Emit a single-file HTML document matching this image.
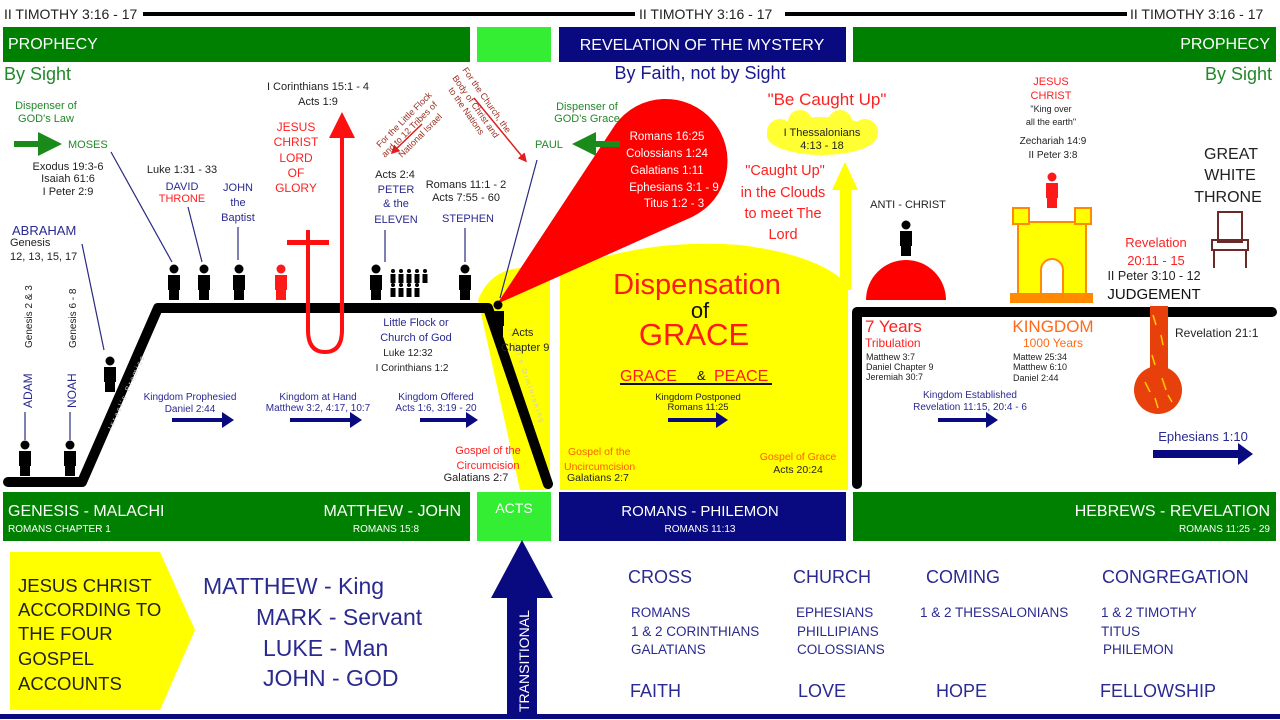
<!DOCTYPE html>
<html><head><meta charset="utf-8"><style>
html,body{margin:0;padding:0;background:#fff;}
svg{display:block;font-family:"Liberation Sans",Arial,sans-serif;}
</style></head><body>
<svg width="1280" height="720" viewBox="0 0 1280 720" xmlns="http://www.w3.org/2000/svg">
<defs>
<g id="p"><circle cx="0" cy="-31" r="4.5"/><rect x="-6" y="-25" width="12" height="15"/><rect x="-5" y="-11" width="10" height="11"/></g>
<g id="sp"><circle cx="0" cy="-12" r="2"/><rect x="-2.5" y="-9" width="5" height="9"/></g>
<marker id="ah" markerWidth="6" markerHeight="6" refX="4" refY="3" orient="auto"><path d="M0,0 L6,3 L0,6z" fill="#e02020"/></marker>
</defs>
<rect width="1280" height="720" fill="#fff"/>
<g font-size="14" fill="#222">
<text x="4" y="19">II TIMOTHY 3:16 - 17</text>
<text x="639" y="19">II TIMOTHY 3:16 - 17</text>
<text x="1130" y="19">II TIMOTHY 3:16 - 17</text>
</g>
<rect x="143" y="12" width="492" height="4" fill="#000"/>
<rect x="785" y="12" width="342" height="4" fill="#000"/>
<rect x="3" y="27" width="467" height="35" fill="#008000"/>
<rect x="477" y="27" width="74" height="35" fill="#33ee33"/>
<rect x="559" y="27" width="287" height="35" fill="#0a0a80"/>
<rect x="853" y="27" width="423" height="35" fill="#008000"/>
<g fill="#fff" font-size="16">
<text x="8" y="49">PROPHECY</text>
<text x="702" y="50" text-anchor="middle">REVELATION OF THE MYSTERY</text>
<text x="1270" y="49" text-anchor="end">PROPHECY</text>
</g>
<g font-size="18">
<text x="4" y="80" fill="#22882a">By Sight</text>
<text x="700" y="79" fill="#1a1a90" text-anchor="middle">By Faith, not by Sight</text>
<text x="1272" y="80" fill="#22882a" text-anchor="end">By Sight</text>
</g>
<!-- yellow areas -->
<path d="M478,300 Q490,270 520,268 L550,272 L550,490 L520,490 Z" fill="#ffff00"/>
<path d="M560,490 L560,272 Q640,238 740,245 Q820,255 848,285 L848,490 Z" fill="#ffff00"/>
<rect x="840" y="185" width="11" height="105" fill="#ffff00"/>
<path d="M832,190 L845,162 L858,190Z" fill="#ffff00"/>
<!-- red teardrop -->
<path d="M497,304 L615,125 A62,62 0 1 1 692,217 Z" fill="#ff0000"/>
<!-- cloud -->
<g fill="#ffff33">
<ellipse cx="822" cy="136" rx="55" ry="19"/>
<circle cx="780" cy="132" r="13"/><circle cx="865" cy="132" r="13"/><circle cx="800" cy="122" r="12"/><circle cx="840" cy="122" r="12"/>
</g>
<!-- timeline -->
<path d="M8,482 L82,482 L158,308 L488,308 L548,484" fill="none" stroke="#000" stroke-width="10" stroke-linejoin="round" stroke-linecap="round"/>
<path d="M857,484 L857,312 L1272,312" fill="none" stroke="#000" stroke-width="10" stroke-linejoin="round" stroke-linecap="round"/>
<text transform="translate(112,430) rotate(-66)" font-size="7" fill="#ccc" letter-spacing="2">Israel's Promise</text>
<text transform="translate(508,330) rotate(71)" font-size="7" fill="#ccc" letter-spacing="2">Israel's Diminishing</text>
<!-- red cross & U -->
<path d="M308,230 L308,330 Q308,352 325,352 Q342,352 342,330 L342,132" fill="none" stroke="#ff1010" stroke-width="4"/>
<rect x="287" y="240" width="42" height="5" fill="#ff1010"/>
<path d="M329,138 L342,112 L355,138Z" fill="#ff1010"/>
<!-- red diagonal arrows -->
<line x1="422" y1="124" x2="393" y2="152" stroke="#e02020" stroke-width="1.5" marker-end="url(#ah)"/>
<line x1="474" y1="98" x2="525" y2="160" stroke="#e02020" stroke-width="1.5" marker-end="url(#ah)"/>
<text transform="translate(380,148) rotate(-45)" font-size="9" fill="#9a3020">For the Little Flock</text>
<text transform="translate(385,158) rotate(-45)" font-size="9" fill="#9a3020">and to 12 Tribes of</text>
<text transform="translate(402,158) rotate(-45)" font-size="9" fill="#9a3020">National Israel</text>
<text transform="translate(462,70) rotate(55)" font-size="9" fill="#9a3020">For the Church, the</text>
<text transform="translate(452,78) rotate(55)" font-size="9" fill="#9a3020">Body of Christ and</text>
<text transform="translate(448,90) rotate(55)" font-size="9" fill="#9a3020">to the Nations</text>
<!-- connector lines -->
<g stroke="#2a2a80" stroke-width="1.2">
<line x1="111" y1="152" x2="172" y2="262"/>
<line x1="188" y1="207" x2="202" y2="262"/>
<line x1="238" y1="227" x2="238" y2="260"/>
<line x1="385" y1="230" x2="385" y2="262"/>
<line x1="465" y1="228" x2="465" y2="262"/>
<line x1="537" y1="160" x2="500" y2="298"/>
<line x1="82" y1="244" x2="104" y2="350"/>
<line x1="25" y1="412" x2="25" y2="440"/>
<line x1="70" y1="412" x2="70" y2="440"/>
</g>
<!-- figures -->
<g fill="#000">
<use href="#p" x="174" y="300"/><use href="#p" x="204" y="300"/><use href="#p" x="239" y="300"/>
<use href="#p" x="376" y="300"/><use href="#p" x="465" y="300"/>
<use href="#p" x="110" y="392"/><use href="#p" x="25" y="476"/><use href="#p" x="70" y="476"/>
<use href="#p" x="498" y="336"/><use href="#p" x="906" y="256"/>
<use href="#sp" x="393" y="283"/><use href="#sp" x="401" y="283"/><use href="#sp" x="409" y="283"/><use href="#sp" x="417" y="283"/><use href="#sp" x="425" y="283"/>
<use href="#sp" x="393" y="297"/><use href="#sp" x="401" y="297"/><use href="#sp" x="409" y="297"/><use href="#sp" x="417" y="297"/>
</g>
<use href="#p" x="281" y="300" fill="#ff1a1a"/>
<use href="#p" x="1052" y="208" fill="#ff1a1a"/>
<!-- dome, castle, lava, throne -->
<path d="M866,300 A40,40 0 0 1 946,300 Z" fill="#ff0000"/>
<g fill="#ffff00" stroke="#ff8a00" stroke-width="2">
<rect x="1018" y="222" width="68" height="72"/>
<rect x="1013" y="208" width="16" height="16"/><rect x="1075" y="208" width="16" height="16"/>
</g>
<rect x="1010" y="293" width="83" height="10" fill="#ff8a00"/>
<path d="M1041,294 L1041,270 A11,11 0 0 1 1063,270 L1063,294Z" fill="#fff" stroke="#ff8a00" stroke-width="2"/>
<rect x="1150" y="306" width="18" height="70" fill="#e8400a"/>
<circle cx="1158" cy="390" r="24" fill="#e8400a"/>
<g stroke="#ffcc00" stroke-width="1.5"><line x1="1153" y1="315" x2="1156" y2="325"/><line x1="1161" y1="335" x2="1163" y2="345"/><line x1="1152" y1="355" x2="1155" y2="365"/><line x1="1145" y1="382" x2="1150" y2="392"/><line x1="1162" y1="378" x2="1166" y2="390"/><line x1="1155" y1="398" x2="1158" y2="408"/><line x1="1168" y1="395" x2="1172" y2="402"/></g>
<g fill="none" stroke="#6a2a2a" stroke-width="2">
<rect x="1218" y="212" width="24" height="30"/><rect x="1212" y="240" width="36" height="10"/><line x1="1214" y1="250" x2="1214" y2="268"/><line x1="1246" y1="250" x2="1246" y2="268"/>
</g>
<!-- green arrows -->
<path d="M14,141 L38,141 L38,132 L62,144 L38,156 L38,147 L14,147Z" fill="#1a8a1a"/>
<path d="M620,141 L596,141 L596,132 L572,144 L596,156 L596,147 L620,147Z" fill="#1a8a1a"/>
<!-- blue arrows -->
<g fill="#0a0a80">
<path d="M172,418 L222,418 L222,412 L234,420 L222,428 L222,422 L172,422Z"/>
<path d="M290,418 L350,418 L350,412 L362,420 L350,428 L350,422 L290,422Z"/>
<path d="M420,418 L466,418 L466,412 L478,420 L466,428 L466,422 L420,422Z"/>
<path d="M668,418 L716,418 L716,412 L728,420 L716,428 L716,422 L668,422Z"/>
<path d="M938,418 L986,418 L986,412 L998,420 L986,428 L986,422 L938,422Z"/>
<path d="M1153,450 L1238,450 L1238,443 L1253,454 L1238,465 L1238,458 L1153,458Z"/>
</g>
<!-- left texts -->
<g font-size="11">
<text x="46" y="109" fill="#22882a" text-anchor="middle">Dispenser of</text>
<text x="46" y="122" fill="#22882a" text-anchor="middle">GOD's Law</text>
<text x="68" y="148" fill="#22882a">MOSES</text>
<g fill="#222" text-anchor="middle"><text x="68" y="170">Exodus 19:3-6</text><text x="68" y="182">Isaiah 61:6</text><text x="68" y="195">I Peter 2:9</text></g>
<text x="12" y="235" fill="#2a2a90" font-size="13">ABRAHAM</text>
<text x="10" y="246" fill="#222">Genesis</text>
<text x="10" y="260" fill="#222">12, 13, 15, 17</text>
<text x="182" y="173" fill="#222" text-anchor="middle">Luke 1:31 - 33</text>
<text x="182" y="190" fill="#2a2a90" text-anchor="middle">DAVID</text>
<text x="182" y="202" fill="#ff2020" text-anchor="middle">THRONE</text>
<text x="238" y="191" fill="#2a2a90" text-anchor="middle">JOHN</text>
<text x="238" y="206" fill="#2a2a90" text-anchor="middle">the</text>
<text x="238" y="221" fill="#2a2a90" text-anchor="middle">Baptist</text>
<text x="318" y="90" fill="#222" text-anchor="middle">I Corinthians 15:1 - 4</text>
<text x="318" y="105" fill="#222" text-anchor="middle">Acts 1:9</text>
<g fill="#ff2020" text-anchor="middle" font-size="12"><text x="296" y="131">JESUS</text><text x="296" y="146">CHRIST</text><text x="296" y="162">LORD</text><text x="296" y="177">OF</text><text x="296" y="192">GLORY</text></g>
<text x="395" y="178" fill="#222" text-anchor="middle">Acts 2:4</text>
<g fill="#2a2a90" text-anchor="middle"><text x="396" y="193">PETER</text><text x="396" y="207">&amp; the</text><text x="396" y="223">ELEVEN</text></g>
<text x="466" y="188" fill="#222" text-anchor="middle">Romans 11:1 - 2</text>
<text x="466" y="201" fill="#222" text-anchor="middle">Acts 7:55 - 60</text>
<text x="468" y="222" fill="#2a2a90" text-anchor="middle">STEPHEN</text>
<g fill="#2a2a90" text-anchor="middle"><text x="416" y="326">Little Flock or</text><text x="416" y="341">Church of God</text></g>
<g fill="#222" text-anchor="middle" font-size="10"><text x="408" y="356">Luke 12:32</text><text x="412" y="371">I Corinthians 1:2</text></g>
<g fill="#2a2a90" text-anchor="middle" font-size="10">
<text x="190" y="400">Kingdom Prophesied</text><text x="190" y="412">Daniel 2:44</text>
<text x="318" y="400">Kingdom at Hand</text><text x="318" y="411">Matthew 3:2, 4:17, 10:7</text>
<text x="436" y="400">Kingdom Offered</text><text x="436" y="411">Acts 1:6, 3:19 - 20</text>
</g>
<text x="488" y="454" fill="#ff2020" text-anchor="middle">Gospel of the</text>
<text x="488" y="469" fill="#ff2020" text-anchor="middle">Circumcision</text>
<text x="476" y="481" fill="#222" text-anchor="middle">Galatians 2:7</text>
<text x="512" y="336" fill="#222">Acts</text>
<text x="501" y="351" fill="#222">Chapter 9</text>
<text x="587" y="110" fill="#22882a" text-anchor="middle">Dispenser of</text>
<text x="587" y="122" fill="#22882a" text-anchor="middle">GOD's Grace</text>
<text x="535" y="148" fill="#22882a">PAUL</text>
</g>
<g font-size="12">
<text transform="translate(32,408) rotate(-90)" fill="#2a2a90">ADAM</text>
<text transform="translate(32,348) rotate(-90)" fill="#222" font-size="10">Genesis 2 &amp; 3</text>
<text transform="translate(76,408) rotate(-90)" fill="#2a2a90">NOAH</text>
<text transform="translate(76,348) rotate(-90)" fill="#222" font-size="10">Genesis 6 - 8</text>
</g>
<g fill="#fff" font-size="11.5" text-anchor="middle">
<text x="667" y="140">Romans 16:25</text><text x="667" y="157">Colossians 1:24</text><text x="667" y="174">Galatians 1:11</text><text x="674" y="191">Ephesians 3:1 - 9</text><text x="674" y="207">Titus 1:2 - 3</text>
</g>
<text x="827" y="105" fill="#ff2020" font-size="17" text-anchor="middle">"Be Caught Up"</text>
<g fill="#222" font-size="11" text-anchor="middle"><text x="822" y="136">I Thessalonians</text><text x="822" y="149">4:13 - 18</text></g>
<g fill="#ff2020" font-size="14.5" text-anchor="middle"><text x="785" y="175">"Caught Up"</text><text x="783" y="197">in the Clouds</text><text x="783" y="218">to meet The</text><text x="783" y="239">Lord</text></g>
<text x="697" y="294" fill="#ff1a1a" font-size="29" text-anchor="middle">Dispensation</text>
<text x="700" y="318" fill="#111" font-size="22" text-anchor="middle">of</text>
<text x="694" y="345" fill="#ff1a1a" font-size="31" text-anchor="middle">GRACE</text>
<text x="620" y="381" fill="#ff1a1a" font-size="16">GRACE</text>
<text x="697" y="380" fill="#111" font-size="13">&amp;</text>
<text x="714" y="381" fill="#ff1a1a" font-size="16">PEACE</text>
<rect x="620" y="383" width="152" height="2" fill="#111"/>
<g fill="#222" font-size="9.5" text-anchor="middle"><text x="698" y="400">Kingdom Postponed</text><text x="698" y="410">Romans 11:25</text></g>
<g font-size="10.5"><text x="568" y="455" fill="#ff6000">Gospel of the</text><text x="564" y="470" fill="#ff6000">Uncircumcision</text><text x="567" y="481" fill="#222">Galatians 2:7</text>
<text x="798" y="460" fill="#ff6000" text-anchor="middle">Gospel of Grace</text><text x="798" y="473" fill="#222" text-anchor="middle">Acts 20:24</text></g>
<text x="908" y="208" fill="#222" font-size="11" text-anchor="middle">ANTI - CHRIST</text>
<g fill="#ff2020" font-size="11" text-anchor="middle"><text x="1051" y="85">JESUS</text><text x="1051" y="99">CHRIST</text></g>
<g fill="#222" font-size="9" text-anchor="middle"><text x="1051" y="112">"King over</text><text x="1051" y="125">all the earth"</text></g>
<g fill="#222" font-size="10" text-anchor="middle"><text x="1053" y="144">Zechariah 14:9</text><text x="1053" y="158">II Peter 3:8</text></g>
<g fill="#222" font-size="16" text-anchor="middle"><text x="1231" y="159">GREAT</text><text x="1230" y="180">WHITE</text><text x="1228" y="202">THRONE</text></g>
<g fill="#ff2020" font-size="13" text-anchor="middle"><text x="1156" y="247">Revelation</text><text x="1156" y="265">20:11 - 15</text></g>
<text x="1154" y="280" fill="#222" font-size="12.5" text-anchor="middle">II Peter 3:10 - 12</text>
<text x="1154" y="299" fill="#111" font-size="15" text-anchor="middle">JUDGEMENT</text>
<text x="1175" y="337" fill="#222" font-size="12">Revelation 21:1</text>
<text x="865" y="332" fill="#ff2020" font-size="17">7 Years</text>
<text x="865" y="347" fill="#ff2020" font-size="12">Tribulation</text>
<g fill="#222" font-size="9"><text x="866" y="360">Matthew 3:7</text><text x="866" y="370">Daniel Chapter 9</text><text x="866" y="380">Jeremiah 30:7</text></g>
<text x="1053" y="332" fill="#ff6a1a" font-size="17" text-anchor="middle">KINGDOM</text>
<text x="1053" y="347" fill="#ff6a1a" font-size="12" text-anchor="middle">1000 Years</text>
<g fill="#222" font-size="9"><text x="1013" y="360">Mattew 25:34</text><text x="1013" y="370">Matthew 6:10</text><text x="1013" y="381">Daniel 2:44</text></g>
<g fill="#2a2a90" font-size="10" text-anchor="middle"><text x="970" y="398">Kingdom Established</text><text x="970" y="410">Revelation 11:15, 20:4 - 6</text></g>
<text x="1203" y="441" fill="#2a2a90" font-size="13" text-anchor="middle">Ephesians 1:10</text>
<rect x="3" y="492" width="467" height="49" fill="#008000"/>
<rect x="477" y="492" width="74" height="49" fill="#33ee33"/>
<rect x="559" y="492" width="287" height="49" fill="#0a0a80"/>
<rect x="853" y="492" width="423" height="49" fill="#008000"/>
<g fill="#fff">
<text x="8" y="516" font-size="16">GENESIS - MALACHI</text>
<text x="8" y="532" font-size="10">ROMANS CHAPTER 1</text>
<text x="461" y="516" font-size="16" text-anchor="end">MATTHEW - JOHN</text>
<text x="386" y="532" font-size="10" text-anchor="middle">ROMANS 15:8</text>
<text x="514" y="513" font-size="14" text-anchor="middle">ACTS</text>
<text x="700" y="516" font-size="15" text-anchor="middle">ROMANS - PHILEMON</text>
<text x="700" y="532" font-size="10" text-anchor="middle">ROMANS 11:13</text>
<text x="1270" y="516" font-size="16" text-anchor="end">HEBREWS - REVELATION</text>
<text x="1270" y="532" font-size="10" text-anchor="end">ROMANS 11:25 - 29</text>
</g>
<path d="M10,552 L160,552 L195,630 L160,710 L10,710Z" fill="#ffff00"/>
<g fill="#222" font-size="18.5"><text x="18" y="592">JESUS CHRIST</text><text x="18" y="616">ACCORDING TO</text><text x="18" y="640">THE FOUR</text><text x="18" y="665">GOSPEL</text><text x="18" y="690">ACCOUNTS</text></g>
<g fill="#2a2a90" font-size="23"><text x="203" y="594">MATTHEW  -  King</text><text x="256" y="625">MARK  -  Servant</text><text x="263" y="656">LUKE  -  Man</text><text x="263" y="686">JOHN  -  GOD</text></g>
<path d="M507,716 L507,598 L491,598 L522,540 L553,598 L537,598 L537,716Z" fill="#0a0a80"/>
<text transform="translate(529,712) rotate(-90)" fill="#fff" font-size="14">TRANSITIONAL</text>
<g fill="#2a2a90" font-size="18"><text x="628" y="583">CROSS</text><text x="793" y="583">CHURCH</text><text x="926" y="583">COMING</text><text x="1102" y="583">CONGREGATION</text>
<text x="630" y="697">FAITH</text><text x="798" y="697">LOVE</text><text x="936" y="697">HOPE</text><text x="1100" y="697">FELLOWSHIP</text></g>
<g fill="#2a2a90" font-size="13.5"><text x="631" y="617">ROMANS</text><text x="631" y="636">1 &amp; 2 CORINTHIANS</text><text x="631" y="654">GALATIANS</text>
<text x="796" y="617">EPHESIANS</text><text x="797" y="636">PHILLIPIANS</text><text x="797" y="654">COLOSSIANS</text>
<text x="920" y="617">1 &amp; 2 THESSALONIANS</text>
<text x="1101" y="617">1 &amp; 2 TIMOTHY</text><text x="1101" y="636">TITUS</text><text x="1103" y="654">PHILEMON</text></g>
<rect x="0" y="714" width="1280" height="5" fill="#0a0a80"/>
</svg>
</body></html>
